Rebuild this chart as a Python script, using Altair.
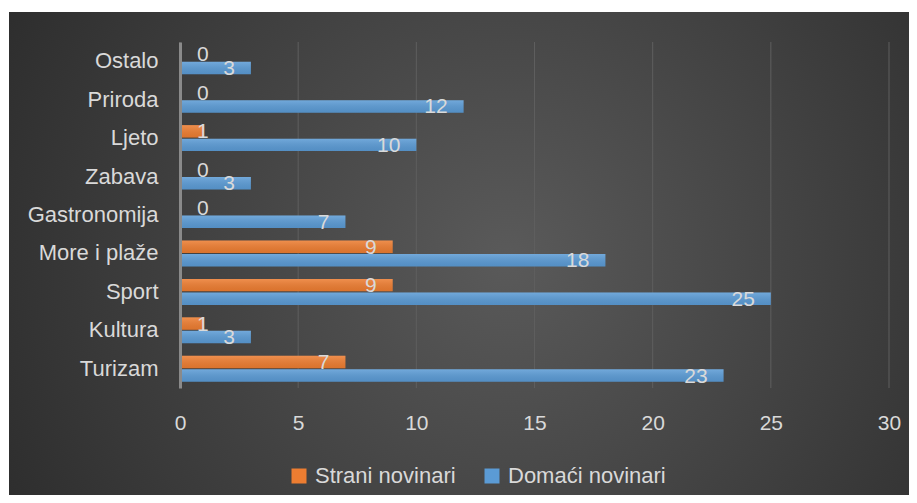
import altair as alt
import pandas as pd

categories = ["Ostalo", "Priroda", "Ljeto", "Zabava", "Gastronomija",
              "More i plaže", "Sport", "Kultura", "Turizam"]
strani = [0, 0, 1, 0, 0, 9, 9, 1, 7]
domaci = [3, 12, 10, 3, 7, 18, 25, 3, 23]
series = ["Strani novinari", "Domaći novinari"]
colors = ["#ED7D31", "#5B9BD5"]
x_ticks = [0, 5, 10, 15, 20, 25, 30]

rows = []
for c, s, d in zip(categories, strani, domaci):
    rows.append({"kategorija": c, "serija": series[0], "broj": s})
    rows.append({"kategorija": c, "serija": series[1], "broj": d})
df = pd.DataFrame(rows)
ticks_df = pd.DataFrame({"t": x_ticks})

FONT = "Liberation Sans"
TXT = "#d9d9d9"
FS = 21
FS_CAT = 22

x_scale = alt.Scale(domain=[0, 30], nice=False, zero=True)
x_axis = alt.Axis(title=None, values=x_ticks, grid=False, ticks=False, domain=False,
                  labelFontSize=FS, labelFont=FONT, labelColor=TXT, labelPadding=24,
                  labelFlush=False, zindex=1)

y_enc = alt.Y("kategorija:N", sort=categories, title=None,
              scale=alt.Scale(paddingInner=0.324, paddingOuter=0.162),
              axis=alt.Axis(title=None, ticks=False, domain=True, domainColor="#8a8a8a",
                            domainWidth=3, labelFontSize=FS_CAT, labelFont=FONT,
                            labelColor=TXT, labelPadding=22, grid=False, zindex=1))
yoff = alt.YOffset("serija:N", sort=series,
                   scale=alt.Scale(paddingInner=0.08, paddingOuter=0))

bg = alt.Chart(alt.Data(values=[{"a": 1}])).mark_rect(
    fill={"gradient": "radial", "x1": 0.55, "y1": 0.5, "r1": 0,
          "x2": 0.55, "y2": 0.5, "r2": 0.72,
          "stops": [{"offset": 0, "color": "#5a5a5a"},
                    {"offset": 1, "color": "#262626"}]}
).encode(x=alt.value(-171), x2=alt.value(737), y=alt.value(-30), y2=alt.value(461))

grid = alt.Chart(ticks_df).mark_rule(color="#5e5e5e", strokeWidth=1).encode(
    x=alt.X("t:Q", scale=x_scale, axis=x_axis, title=None)
)

bars = alt.Chart(df).mark_bar().encode(
    x=alt.X("broj:Q", scale=x_scale, axis=x_axis, title=None),
    y=y_enc,
    yOffset=yoff,
    color=alt.Color("serija:N", sort=series,
                    scale=alt.Scale(domain=series, range=colors),
                    legend=alt.Legend(title=None, orient="none", legendX=108, legendY=423,
                                      direction="horizontal", symbolType="square",
                                      symbolSize=225, symbolStrokeWidth=0,
                                      symbolOpacity=1,
                                      labelFontSize=FS_CAT, labelFont=FONT, labelColor=TXT,
                                      labelOffset=5, columnPadding=25, padding=0,
                                      zindex=1)),
)

shine = alt.Chart(df).mark_bar(
    fill={"gradient": "linear", "x1": 0, "y1": 0, "x2": 0, "y2": 1,
          "stops": [{"offset": 0, "color": "rgba(255,255,255,0.14)"},
                    {"offset": 1, "color": "rgba(0,0,0,0.08)"}]}
).encode(
    x=alt.X("broj:Q", scale=x_scale, axis=x_axis, title=None),
    y=y_enc,
    yOffset=yoff,
)

labels_big = alt.Chart(df).transform_filter("datum.broj >= 2").mark_text(
    align="right", baseline="middle", dx=-16, dy=1, font=FONT, fontSize=FS, color=TXT
).encode(
    x=alt.X("broj:Q", scale=x_scale, axis=x_axis, title=None),
    y=y_enc,
    yOffset=yoff,
    text="broj:Q",
)

labels_small = alt.Chart(df).transform_filter("datum.broj < 2").mark_text(
    align="left", baseline="middle", dx=17, dy=1, font=FONT, fontSize=FS, color=TXT
).encode(
    x=alt.datum(0, scale=x_scale),
    y=y_enc,
    yOffset=yoff,
    text="broj:Q",
)

chart = alt.layer(bg, grid, bars, shine, labels_big, labels_small).properties(
    width=709, height=346,
    autosize=alt.AutoSizeParams(type="none"),
    padding={"left": 172, "top": 34, "right": 20, "bottom": 107},
    background="white",
).configure_view(stroke=None)

chart.save("out.html", embed_options={"renderer": "svg", "actions": False})
